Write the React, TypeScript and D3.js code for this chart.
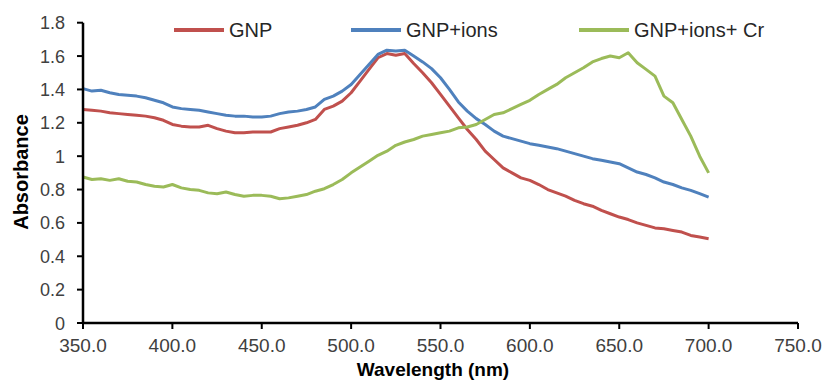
import React from 'react'
import * as d3 from 'd3'

const wavelengths = d3.range(350, 701, 5)

const gnp = [
  1.28, 1.275, 1.27, 1.26, 1.255, 1.25, 1.245, 1.24, 1.23, 1.215,
  1.19, 1.18, 1.175, 1.175, 1.185, 1.165, 1.15, 1.14, 1.14, 1.145,
  1.145, 1.145, 1.165, 1.175, 1.185, 1.2, 1.22, 1.28, 1.3, 1.33,
  1.38, 1.45, 1.52, 1.59, 1.615, 1.605, 1.615, 1.555, 1.5, 1.44,
  1.37, 1.3, 1.23, 1.16, 1.1, 1.03, 0.98, 0.93, 0.9, 0.87,
  0.855, 0.83, 0.8, 0.78, 0.76, 0.735, 0.715, 0.7, 0.675, 0.655,
  0.635, 0.62, 0.6, 0.585, 0.57, 0.565, 0.555, 0.545, 0.525, 0.515,
  0.505,
]

const gnpIons = [
  1.405, 1.39, 1.395, 1.38, 1.37, 1.365, 1.36, 1.35, 1.335, 1.32,
  1.295, 1.285, 1.28, 1.275, 1.265, 1.255, 1.245, 1.24, 1.24, 1.235,
  1.235, 1.24, 1.255, 1.265, 1.27, 1.28, 1.295, 1.34, 1.36, 1.39,
  1.43, 1.49, 1.55, 1.61, 1.635, 1.63, 1.635, 1.6, 1.565, 1.525,
  1.47, 1.4, 1.325, 1.27, 1.225, 1.19, 1.15, 1.12, 1.105, 1.09,
  1.075, 1.065, 1.055, 1.045, 1.03, 1.015, 1.0, 0.985, 0.975, 0.965,
  0.955, 0.93, 0.905, 0.89, 0.87, 0.845, 0.83, 0.81, 0.795, 0.775,
  0.755,
]

const gnpIonsCr = [
  0.875, 0.86, 0.865, 0.855, 0.865, 0.85, 0.845, 0.83, 0.82, 0.815,
  0.83, 0.81, 0.8, 0.795, 0.78, 0.775, 0.785, 0.77, 0.76, 0.765,
  0.765, 0.76, 0.745, 0.75, 0.76, 0.77, 0.79, 0.805, 0.83, 0.86,
  0.9, 0.935, 0.97, 1.005, 1.03, 1.065, 1.085, 1.1, 1.12, 1.13,
  1.14, 1.15, 1.17, 1.175, 1.19, 1.22, 1.25, 1.26, 1.285, 1.31,
  1.335, 1.37, 1.4, 1.43, 1.47, 1.5, 1.53, 1.565, 1.585, 1.6,
  1.59, 1.62, 1.56, 1.52, 1.48, 1.36, 1.32, 1.22, 1.12, 1.0,
  0.9,
]

const seriesNames = ['GNP', 'GNP+ions', 'GNP+ions+ Cr']
const seriesColors = ['#C0504D', '#4F81BD', '#9BBB59']
const xTicks = d3.range(350, 751, 50)
const yTicks = d3.range(0, 1.81, 0.2)

const W = 829
const H = 383
const font = 'Arial, "Liberation Sans", sans-serif'

export default function App() {
  const x = d3.scaleLinear().domain([350, 750]).range([83, 798])
  const y = d3.scaleLinear().domain([0, 1.8]).range([323, 22.7])
  const line = d3.line<number>().x((_, i) => x(wavelengths[i])).y(d => y(d))
  const series = [gnp, gnpIons, gnpIonsCr]
  const legendX = [174, 351, 579]

  return (
    <svg width={W} height={H} style={{ position: 'absolute', left: 0, top: 0, background: '#fff' }}>
      {series.map((s, i) => (
        <path key={i} d={line(s) || ''} fill="none" stroke={seriesColors[i]} strokeWidth={3} strokeLinejoin="round" />
      ))}

      {/* axes */}
      <line x1={x(350)} x2={x(350)} y1={y(0)} y2={y(1.8)} stroke="#000" strokeWidth={2.5} />
      <line x1={x(350)} x2={x(750)} y1={y(0)} y2={y(0)} stroke="#000" strokeWidth={2.5} />
      {yTicks.map(t => (
        <g key={t}>
          <line x1={x(350) - 6} x2={x(350)} y1={y(t)} y2={y(t)} stroke="#000" strokeWidth={2} />
          <text x={65} y={y(t) + 6.5} textAnchor="end" fontSize={18} fill="#404040" fontFamily={font}>
            {d3.format('.1~f')(t)}
          </text>
        </g>
      ))}
      {xTicks.map(t => (
        <g key={t}>
          <line x1={x(t)} x2={x(t)} y1={y(0)} y2={y(0) + 6} stroke="#000" strokeWidth={2} />
          <text x={x(t)} y={352} textAnchor="middle" fontSize={19} fill="#404040" fontFamily={font}>
            {d3.format('.1f')(t)}
          </text>
        </g>
      ))}

      <text x={433} y={376} textAnchor="middle" fontSize={19} fontWeight="bold" fill="#000" fontFamily={font}>
        Wavelength (nm)
      </text>
      <text transform="translate(28,172) rotate(-90)" textAnchor="middle" fontSize={20} fontWeight="bold" fill="#000" fontFamily={font}>
        Absorbance
      </text>

      {/* legend */}
      {seriesNames.map((n, i) => (
        <g key={n}>
          <line x1={legendX[i]} x2={legendX[i] + 50} y1={30} y2={30} stroke={seriesColors[i]} strokeWidth={4} />
          <text x={legendX[i] + 55} y={37} fontSize={20} fill="#262626" fontFamily={font}>{n}</text>
        </g>
      ))}
    </svg>
  )
}
